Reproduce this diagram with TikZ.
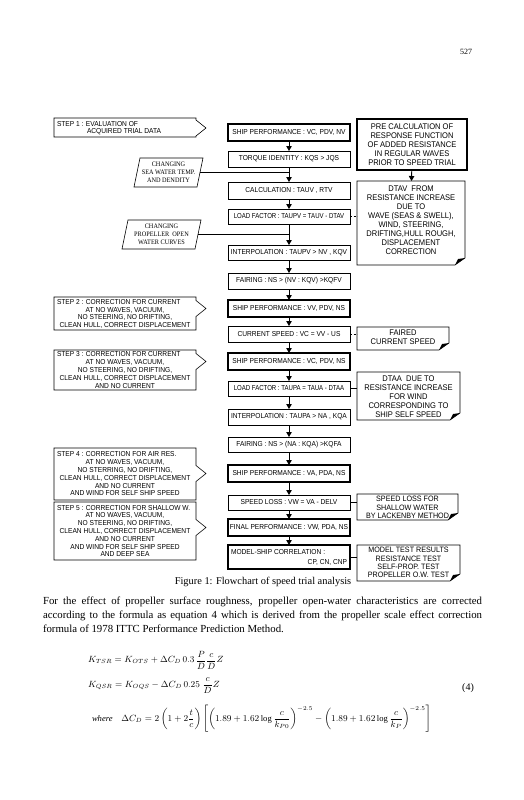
\documentclass[tikz,border=0pt]{standalone}
\usepackage{amsmath}
\usepackage{fontspec}
\setmainfont{Liberation Serif}
\newfontfamily\chartfont[FakeStretch=0.92]{Liberation Sans}
\newfontfamily\chartfontn[FakeStretch=0.84]{Liberation Sans}
\newfontfamily\parafont[FakeStretch=0.92]{Liberation Serif}
\usetikzlibrary{arrows.meta}
\newcommand{\chartsize}{\chartfont\fontsize{7.2}{8}\selectfont}
\newcommand{\narrowsize}{\chartfontn\fontsize{7.2}{8}\selectfont}
\newcommand{\stepsize}{\chartfont\fontsize{7.2}{7.8}\selectfont}
\newcommand{\rightsize}{\chartfont\fontsize{8.2}{9}\selectfont}
\newcommand{\rightsmall}{\chartfont\fontsize{7.8}{8.2}\selectfont}
\newcommand{\stepshape}[5]{\draw[link] (#1,#2) -- (#3,#2) -- (#3,#5-8) -- (#3+10,#5) -- (#3,#5+8) -- (#3,#4) -- (#1,#4) -- cycle;}
\newcommand{\docoutline}[1]{%
  \draw[link] (#1.north west) -- (#1.north east) -- ([yshift=7pt]#1.south east) -- ([xshift=-10pt]#1.south east) -- (#1.south west) -- cycle;
  \fill ([yshift=7pt]#1.south east) -- ([xshift=-10pt]#1.south east) -- ([shift={(-7pt,6pt)}]#1.south east) -- cycle;}
\begin{document}
\begin{tikzpicture}[x=1pt,y=-1pt,
  every node/.style={inner sep=0pt, outer sep=0pt},
  box/.style={draw, line width=0.6pt, minimum width=122pt, font=\chartsize, align=center, inner xsep=1pt},
  boldbox/.style={box, line width=1.6pt},
  docbox/.style={font=\rightsize, align=center},
  ctext/.style={font=\chartsize, align=center},
  stext/.style={font=\stepsize, align=center},
  ptext/.style={font=\parafont\fontsize{6.8}{7.8}\selectfont, align=center},
  flow/.style={-{Triangle[length=5pt,width=5.5pt]}, line width=0.8pt},
  link/.style={line width=0.6pt},
  dlink/.style={line width=0.6pt, dash pattern=on 2pt off 1.5pt},
]
\fill[white] (0,0) rectangle (524,800);
\useasboundingbox (0,0) rectangle (524,800);

\node[font=\fontsize{8}{9}\selectfont] (pagenum) at (466,52) {527};

% ---------- main column ----------
\node[boldbox, minimum height=17] (sp1) at (289,132.5) {SHIP PERFORMANCE : VC, PDV, NV};
\node[box, minimum height=16] (tq) at (289,159) {TORQUE IDENTITY : KQS > JQS};
\node[box, minimum height=17] (calc) at (289,190.5) {CALCULATION : TAUV , RTV};
\node[box, font=\narrowsize, minimum height=15] (lf1) at (289,216.5) {LOAD FACTOR : TAUPV = TAUV - DTAV};
\node[box, minimum height=15] (ip1) at (289,252.5) {INTERPOLATION : TAUPV > NV , KQV};
\node[box, minimum height=16] (fr1) at (289,281) {FAIRING : NS > (NV : KQV) >KQFV};
\node[boldbox, minimum height=17] (sp2) at (289,308.5) {SHIP PERFORMANCE : VV, PDV, NS};
\node[box, minimum height=16] (cs) at (289,334) {CURRENT SPEED : VC = VV - US};
\node[boldbox, minimum height=17] (sp3) at (289,361.5) {SHIP PERFORMANCE : VC, PDV, NS};
\node[box, font=\narrowsize, minimum height=15] (lf2) at (289,388.5) {LOAD FACTOR : TAUPA = TAUA - DTAA};
\node[box, minimum height=16] (ip2) at (289,417) {INTERPOLATION : TAUPA > NA , KQA};
\node[box, minimum height=15] (fr2) at (289,444.5) {FAIRING : NS > (NA : KQA) >KQFA};
\node[boldbox, minimum height=17] (sp4) at (289,473.5) {SHIP PERFORMANCE : VA, PDA, NS};
\node[box, minimum height=15] (sl) at (289,502.5) {SPEED LOSS : VW = VA - DELV};
\node[boldbox, minimum height=17] (fp) at (289,527.5) {FINAL PERFORMANCE : VW, PDA, NS};
\node[box, line width=2.4pt, minimum height=24] (ms) at (289,557) {};
\node[ctext, anchor=north west] (mst) at ([shift={(3pt,-4pt)}]ms.north west) {MODEL-SHIP CORRELATION :};
\node[ctext, anchor=south east] (msc) at ([shift={(-3pt,3.5pt)}]ms.south east) {CP, CN, CNP};

\foreach \a/\b in {sp1/tq, tq/calc, calc/lf1, lf1/ip1, ip1/fr1, fr1/sp2, sp2/cs, cs/sp3, sp3/lf2, lf2/ip2, ip2/fr2, fr2/sp4, sp4/sl, sl/fp, fp/ms}
  \draw[flow] (\a) -- (\b);

% ---------- left column ----------
\stepshape{54}{118}{196}{137}{128}
\node[stext, anchor=north west] (s1h) at (57,121) {STEP 1 : EVALUATION OF};
\node[stext, anchor=north west] (s1) at (87,128.8) {ACQUIRED TRIAL DATA};

\draw[link] (140,158) -- (203,158) -- (197,187) -- (134,187) -- cycle;
\node[ptext] (pa) at (168.5,172.5) {CHANGING\\SEA WATER TEMP.\\AND DENDITY};
\coordinate (pa-r) at (200,172.5);
\coordinate (j1) at (289,172.5);
\draw[link] (pa-r) -- (j1);

\draw[link] (128,220) -- (201,220) -- (195,249) -- (122,249) -- cycle;
\node[ptext] (pb) at (161.5,234.5) {CHANGING\\PROPELLER\ \ OPEN\\WATER CURVES};
\coordinate (pb-r) at (198,234.5);
\coordinate (j2) at (289,234.5);
\draw[link] (pb-r) -- (j2);

\stepshape{54}{297}{196}{330}{308.5}
\node[stext, anchor=north west] (s2h) at (57,299.2) {STEP 2 : CORRECTION FOR CURRENT};
\node[stext, anchor=north] (s2) at (125,307) {AT NO WAVES, VACUUM,\\NO STEERING, NO DRIFTING,\\CLEAN HULL, CORRECT DISPLACEMENT};

\stepshape{54}{350}{196}{390}{361.5}
\node[stext, anchor=north west] (s3h) at (57,351.8) {STEP 3 : CORRECTION FOR CURRENT};
\node[stext, anchor=north] (s3) at (125,359.6) {AT NO WAVES, VACUUM,\\NO STEERING, NO DRIFTING,\\CLEAN HULL, CORRECT DISPLACEMENT\\AND NO CURRENT};

\stepshape{54}{448}{196}{500}{473.5}
\node[stext, anchor=north west] (s4h) at (57,451.9) {STEP 4 : CORRECTION FOR AIR RES.};
\node[stext, anchor=north] (s4) at (125,459.7) {AT NO WAVES, VACUUM,\\NO STERRING, NO DRIFTING,\\CLEAN HULL, CORRECT DISPLACEMENT\\AND NO CURRENT\\AND WIND FOR SELF SHIP SPEED};

\stepshape{54}{502}{196}{560}{527.5}
\node[stext, anchor=north west] (s5h) at (57,505) {STEP 5 : CORRECTION FOR SHALLOW W.};
\node[stext, anchor=north] (s5) at (125,512.8) {AT NO WAVES, VACUUM,\\NO STEERING, NO DRIFTING,\\CLEAN HULL, CORRECT DISPLACEMENT\\AND NO CURRENT\\AND WIND FOR SELF SHIP SPEED\\AND DEEP SEA};

% ---------- right column ----------
\node[docbox, draw, line width=2.2pt, minimum width=110, minimum height=51] (pre) at (412,144.5) {PRE CALCULATION OF\\RESPONSE FUNCTION\\OF ADDED RESISTANCE\\IN REGULAR WAVES\\PRIOR TO SPEED TRIAL};

\node[docbox, minimum width=108, minimum height=84] (dtav) at (411,223) {};
\node[docbox, anchor=north] (dtavt) at ([yshift=-5pt]dtav.north) {DTAV\ \ FROM\\RESISTANCE INCREASE\\DUE TO\\WAVE (SEAS \& SWELL),\\WIND, STEERING,\\DRIFTING,HULL ROUGH,\\DISPLACEMENT\\CORRECTION};
\docoutline{dtav}
\draw[flow] (pre) -- (dtav);

\node[docbox, minimum width=92, minimum height=23] (faired) at (403,338.5) {};
\node[docbox, anchor=north] (fairedt) at ([yshift=-3pt]faired.north) {FAIRED\\CURRENT SPEED};
\docoutline{faired}

\node[docbox, minimum width=103, minimum height=48] (dtaa) at (408.5,396) {};
\node[docbox, anchor=north] (dtaat) at ([yshift=-3.5pt]dtaa.north) {DTAA\ \ DUE TO\\RESISTANCE INCREASE\\FOR WIND\\CORRESPONDING TO\\SHIP SELF SPEED};
\docoutline{dtaa}

\node[docbox, minimum width=101, minimum height=26] (slf) at (407.5,507) {};
\node[docbox, font=\rightsmall, anchor=north] (slft) at ([yshift=-2.5pt]slf.north) {SPEED LOSS FOR\\SHALLOW WATER\\BY LACKENBY METHOD};
\docoutline{slf}

\node[docbox, minimum width=103, minimum height=36] (mtr) at (408.5,563) {};
\node[docbox, font=\rightsmall, anchor=north] (mtrt) at ([yshift=-2.5pt]mtr.north) {MODEL TEST RESULTS\\RESISTANCE TEST\\SELF-PROP. TEST\\PROPELLER O.W. TEST};
\docoutline{mtr}

\draw[dlink] (lf1.east) -- (lf1.east -| dtav.west);
\draw[dlink] (cs.east) -- (cs.east -| faired.west);
\draw[link] (lf2.east) -- (lf2.east -| dtaa.west);
\draw[link] (sl.east) -- (sl.east -| slf.west);
\draw[link] (ms.east) -- (ms.east -| mtr.west);

% ---------- text below ----------
\node[font=\fontsize{10.4}{12}\selectfont] (cap) at (263,582) {Figure 1: Flowchart of speed trial analysis};

\node[anchor=north west, text width=439pt, align=justify, font=\fontsize{10.8}{14}\selectfont] (para) at (43,596.5)
{For the effect of propeller surface roughness, propeller open-water characteristics are corrected\linebreak according to the formula as equation 4 which is derived from the propeller scale effect correction\linebreak formula of 1978 ITTC Performance Prediction Method.};

\node[anchor=west, font=\fontsize{9}{11}\selectfont] (eq1) at (88,660) {$K_{TSR} = K_{OTS} + \Delta C_D\,0.3\,\dfrac{P}{D}\dfrac{c}{D}Z$};
\node[anchor=west, font=\fontsize{9}{11}\selectfont] (eq2) at (88,686) {$K_{QSR} = K_{OQS} - \Delta C_D\,0.25\;\dfrac{c}{D}Z$};
\node[anchor=west, font=\fontsize{8.6}{11}\selectfont] (eq3) at (92,719) {\textit{where}\quad $\Delta C_D = 2\left(1+2\dfrac{t}{c}\right)\left[\left(1.89+1.62\log\dfrac{c}{k_{P0}}\right)^{-2.5}-\left(1.89+1.62\log\dfrac{c}{k_P}\right)^{-2.5}\right]$};
\node[font=\fontsize{10}{12}\selectfont] (eqn) at (468,688) {(4)};
\end{tikzpicture}
\end{document}
